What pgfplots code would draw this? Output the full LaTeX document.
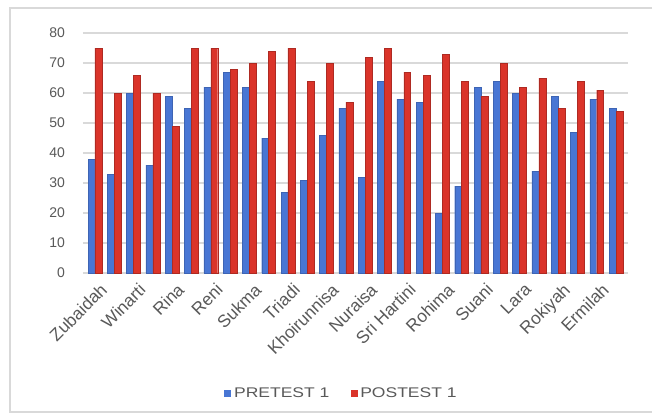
\documentclass[border=0pt]{standalone}
\usepackage{pgfplots}
\pgfplotsset{compat=1.18}
\usepackage{fontspec}
\setmainfont{Liberation Sans}
\newfontfamily\legfont[FakeStretch=1.25]{Liberation Sans}
\definecolor{preblue}{RGB}{72,118,212}
\definecolor{postred}{RGB}{218,52,42}
\definecolor{gridgray}{RGB}{217,217,217}
\definecolor{txtgray}{RGB}{89,89,89}
\begin{document}
\begin{tikzpicture}
\useasboundingbox (-62.25pt,-109.5pt) rectangle (427.5pt,204.75pt);
\fill[white] (-62.25pt,-109.5pt) rectangle (427.5pt,204.75pt);
\draw[gridgray, line width=0.8pt] (426.75pt,198.75pt) -- (-54.75pt,198.75pt) -- (-54.75pt,-104.25pt) -- (426.75pt,-104.25pt);
\begin{axis}[
  at={(0,0)}, anchor=south west,
  scale only axis, width=408.75pt, height=180pt,
  ybar=0pt, bar width=0.36,
  xmin=-0.62, xmax=27.62, ymin=0, ymax=80,
  ytick={0,10,...,80},
  xtick={0,2,...,26},
  xticklabels={Zubaidah,Winarti,Rina,Reni,Sukma,Triadi,Khoirunnisa,Nuraisa,Sri Hartini,Rohima,Suani,Lara,Rokiyah,Ermilah},
  xticklabel style={rotate=45, anchor=north east, font=\fontsize{13}{15}\selectfont, text=txtgray, inner sep=1pt, xshift=1.5pt, yshift=-3pt},
  yticklabel style={font=\fontsize{10.5}{12}\selectfont, text=txtgray, xshift=-10pt},
  /pgf/number format/assume math mode=true,
  axis line style={draw=none},
  major tick style={draw=none},
  ymajorgrids, grid style={gridgray, line width=0.8pt},
  legend style={at={(0.475,-0.504)}, anchor=center, draw=none, fill=none,
    font=\legfont\fontsize{10.5}{12}\selectfont, text=txtgray, legend columns=2,
    /tikz/every even column/.append style={column sep=14pt}},
  legend image code/.code={\fill[#1,draw=none] (0pt,-2.6pt) rectangle (5.2pt,2.6pt);},
]
\addplot[fill=preblue, draw=preblue!85!black, line width=0.3pt] coordinates {
(0,38) (1,33) (2,60) (3,36) (4,59) (5,55) (6,62) (7,67) (8,62) (9,45)
(10,27) (11,31) (12,46) (13,55) (14,32) (15,64) (16,58) (17,57) (18,20) (19,29)
(20,62) (21,64) (22,60) (23,34) (24,59) (25,47) (26,58) (27,55)};
\addplot[fill=postred, draw=postred!80!black, line width=0.3pt] coordinates {
(0,75) (1,60) (2,66) (3,60) (4,49) (5,75) (6,75) (7,68) (8,70) (9,74)
(10,75) (11,64) (12,70) (13,57) (14,72) (15,75) (16,67) (17,66) (18,73) (19,64)
(20,59) (21,70) (22,62) (23,65) (24,55) (25,64) (26,61) (27,54)};
\legend{PRETEST 1, POSTEST 1}
\end{axis}
\end{tikzpicture}
\end{document}
